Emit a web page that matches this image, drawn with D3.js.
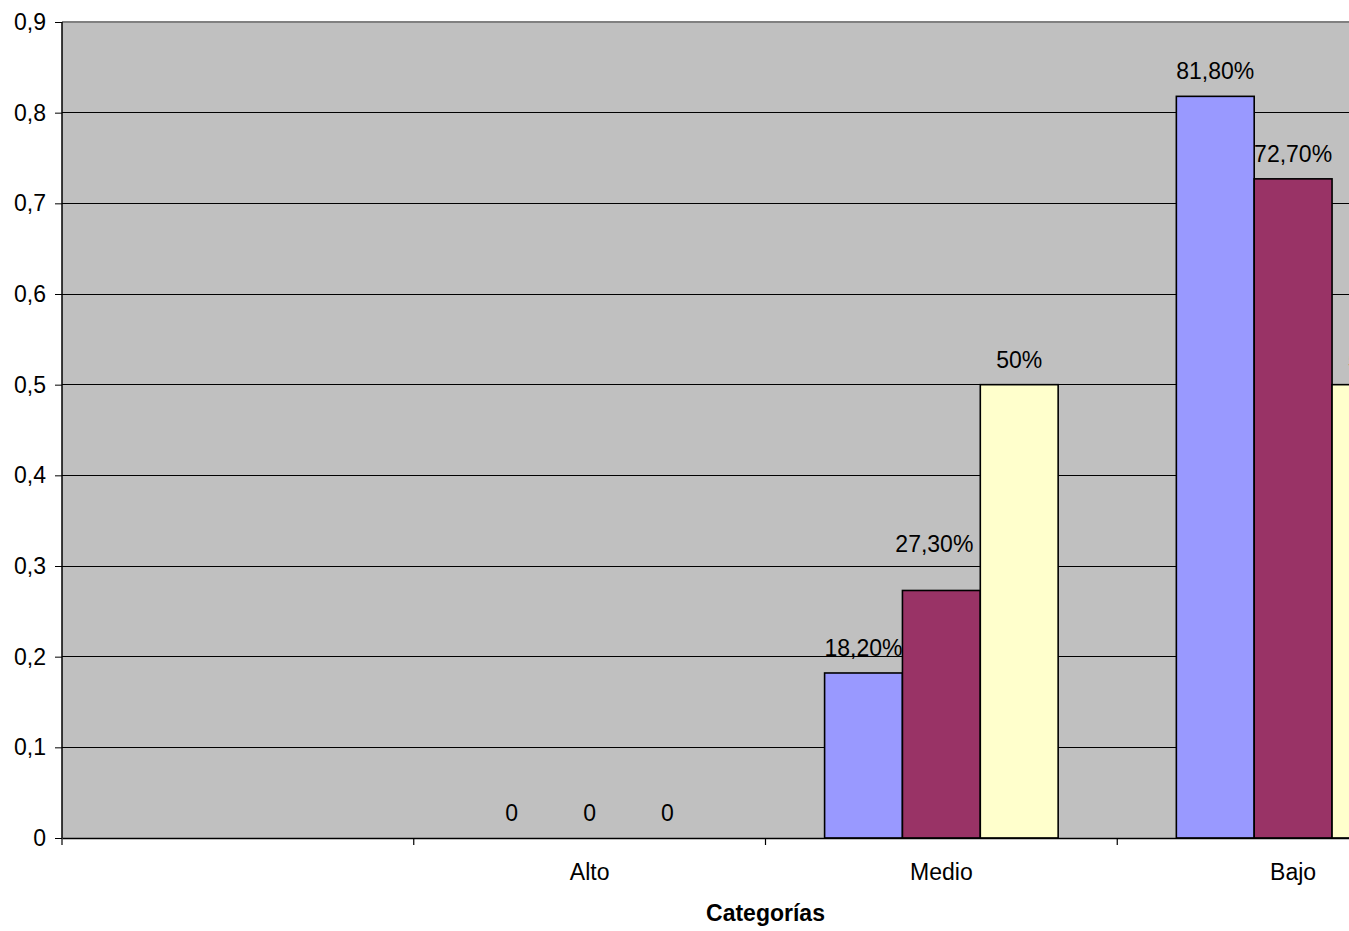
<!DOCTYPE html>
<html>
<head>
<meta charset="utf-8">
<script src="https://cdn.jsdelivr.net/npm/d3@7"></script>
<style>
  body { margin: 0; background: #fff; }
  svg { display: block; font-family: "Liberation Sans", Arial, sans-serif; }
</style>
</head>
<body>
<div id="chart"></div>
<script>
// Categories (first slot is empty in the original chart)
const categories = ["", "Alto", "Medio", "Bajo"];
const seriesNames = ["Serie1", "Serie2", "Serie3"];
const serie1 = [null, 0, 0.182, 0.818];
const serie2 = [null, 0, 0.273, 0.727];
const serie3 = [null, 0, 0.5, 0.5];
const labels1 = ["", "0", "18,20%", "81,80%"];
const labels2 = ["", "0", "27,30%", "72,70%"];
const labels3 = ["", "0", "50%", "50%"];
const yTicks = [0, 0.1, 0.2, 0.3, 0.4, 0.5, 0.6, 0.7, 0.8, 0.9];
const colours = ["#9999FF", "#993366", "#FFFFCC"];

const series = [serie1, serie2, serie3];
const labels = [labels1, labels2, labels3];

let width = 1349, height = 931;
let margin = { top: 22, left: 62, bottom: 93 };
let plotRight = 1469; // plot area runs past the right edge of the picture
let fontSize = "23px";

// Label that was moved by hand in the original (series 2, Medio)
function labelShift(s, c) {
    if (s == 1 && c == "Medio") return { dx: -7, dy: -21 };
    return { dx: 0, dy: 0 };
}

let svg = d3.select("#chart").append("svg")
    .attr("width", width)
    .attr("height", height);

// Scales
let x = d3.scaleBand()
    .domain(categories)
    .range([margin.left, plotRight])
    .padding(0);
let bw = x.bandwidth();
let xs = d3.scaleBand()
    .domain(seriesNames)
    .range([bw * 0.168, bw * 0.832])
    .padding(0);
let y = d3.scaleLinear()
    .domain([0, 0.9])
    .range([height - margin.bottom, margin.top]);

// Plot area background
svg.append("rect")
    .attr("x", margin.left).attr("y", y(0.9))
    .attr("width", plotRight - margin.left)
    .attr("height", y(0) - y(0.9))
    .attr("fill", "#C0C0C0");

// Gridlines
svg.append("g")
    .selectAll("line")
    .data(yTicks.filter(d => d > 0 && d < 0.9))
    .join("line")
        .attr("x1", margin.left).attr("x2", plotRight)
        .attr("y1", d => y(d)).attr("y2", d => y(d))
        .attr("stroke", "#000")
        .attr("stroke-width", 1)
        .attr("shape-rendering", "crispEdges");

// Top border of the plot area
svg.append("line")
    .attr("x1", margin.left).attr("x2", plotRight)
    .attr("y1", y(0.9)).attr("y2", y(0.9))
    .attr("stroke", "#808080")
    .attr("stroke-width", 2)
    .attr("shape-rendering", "crispEdges");

// Bars
for (let s = 0; s < series.length; ++s) {
    let data = categories.map((c, i) => ({ c: c, v: series[s][i], l: labels[s][i] }))
        .filter(d => d.v !== null);
    svg.append("g")
        .selectAll("rect")
        .data(data.filter(d => d.v > 0))
        .join("rect")
            .attr("x", d => x(d.c) + xs(seriesNames[s]))
            .attr("y", d => y(d.v))
            .attr("width", xs.bandwidth())
            .attr("height", d => y(0) - y(d.v))
            .attr("fill", colours[s])
            .attr("stroke", "#000")
            .attr("stroke-width", 1.6);
    svg.append("g")
        .selectAll("text")
        .data(data)
        .join("text")
            .text(d => d.l)
            .attr("x", d => x(d.c) + xs(seriesNames[s]) + xs.bandwidth() / 2 + labelShift(s, d.c).dx)
            .attr("y", d => y(d.v) - 17 + labelShift(s, d.c).dy)
            .attr("text-anchor", "middle")
            .style("font-size", fontSize)
            .attr("fill", "#000");
}

// Y axis
let yAxis = svg.append("g")
    .attr("transform", "translate(" + margin.left + ",0)")
    .call(d3.axisLeft(y)
        .tickValues(yTicks)
        .tickSize(7)
        .tickPadding(9)
        .tickFormat(d => String(+d.toFixed(1)).replace(".", ",")));
yAxis.select(".domain").attr("stroke", "#000").attr("stroke-width", 1.5).attr("d", "M0," + y(0.9) + "V" + y(0));
yAxis.selectAll("text").style("font-size", fontSize).attr("fill", "#000").attr("font-family", null);

// X axis
let xAxis = svg.append("g")
    .attr("transform", "translate(0," + y(0) + ")")
    .call(d3.axisBottom(x).tickSize(0).tickPadding(26));
xAxis.select(".domain").attr("stroke", "#000").attr("stroke-width", 1.5);
xAxis.selectAll("text").style("font-size", fontSize).attr("fill", "#000").attr("font-family", null);

// Category separator ticks
svg.append("g")
    .selectAll("line")
    .data(categories)
    .join("line")
        .attr("x1", d => x(d)).attr("x2", d => x(d))
        .attr("y1", y(0)).attr("y2", y(0) + 7)
        .attr("stroke", "#000")
        .attr("stroke-width", 1.2);

// Axis title
svg.append("text").text("Categorías")
    .attr("x", (margin.left + plotRight) / 2)
    .attr("y", 921)
    .attr("text-anchor", "middle")
    .style("font-size", fontSize)
    .style("font-weight", "bold");
</script>
</body>
</html>
